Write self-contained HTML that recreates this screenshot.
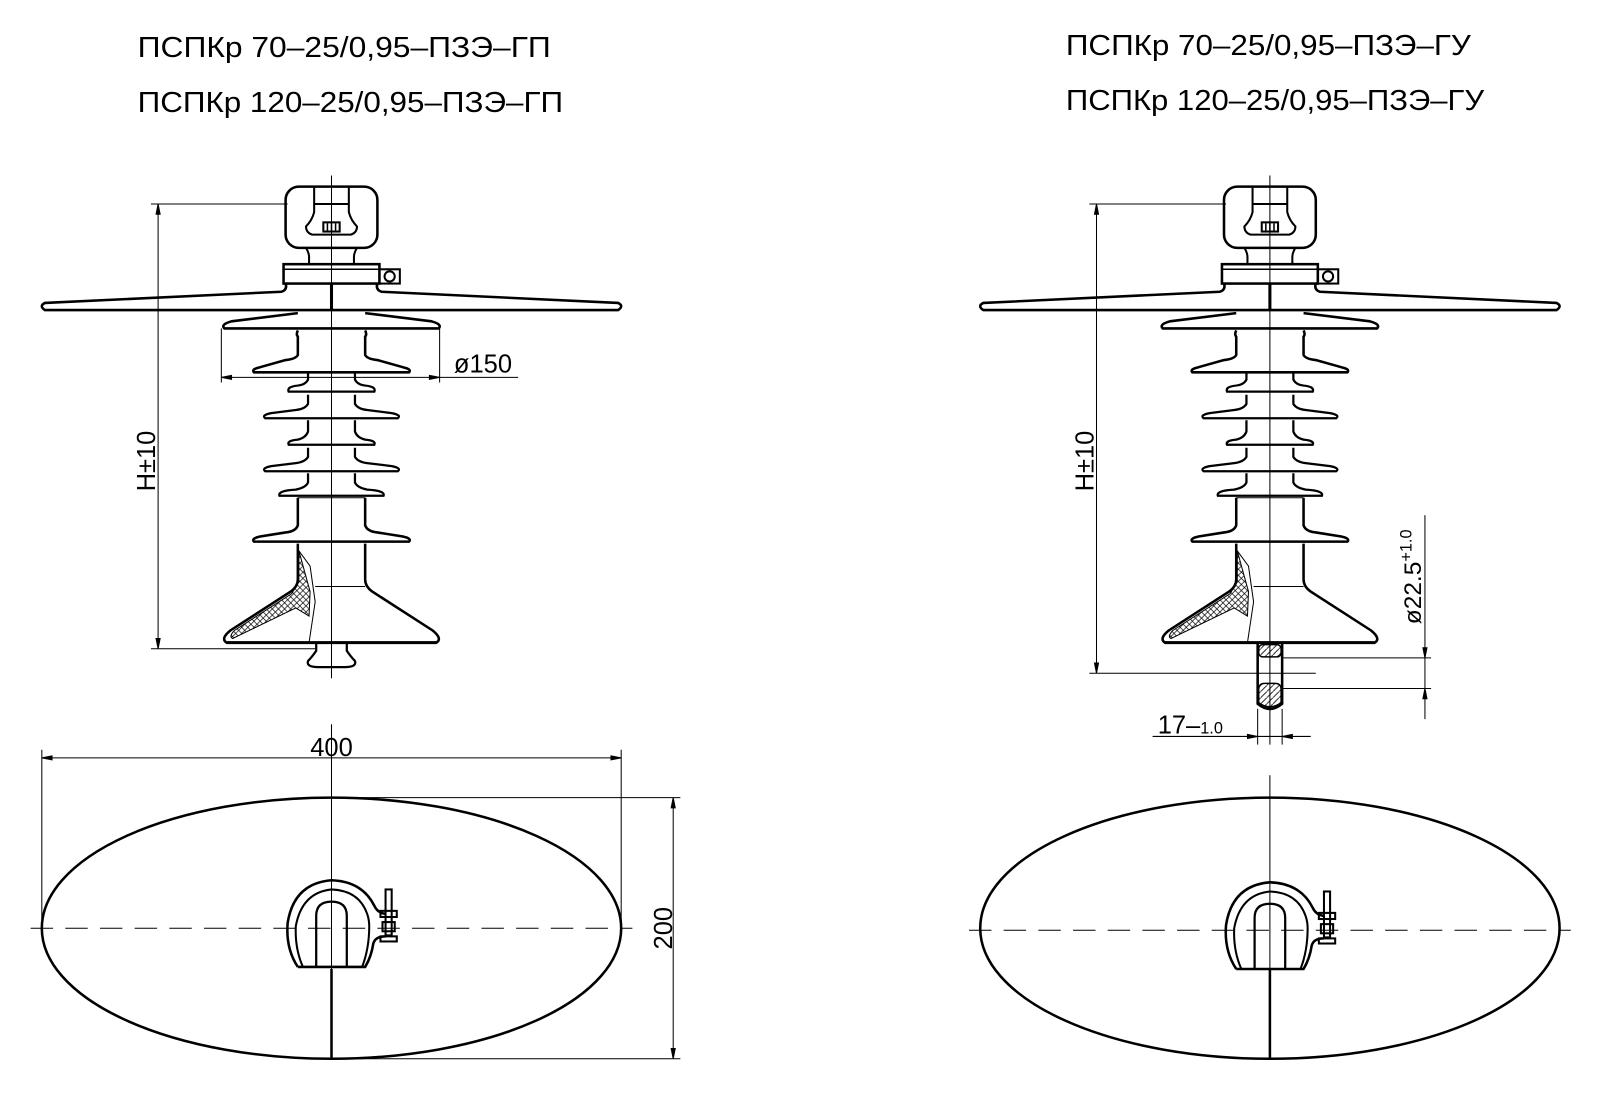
<!DOCTYPE html>
<html><head><meta charset="utf-8"><style>
html,body{margin:0;padding:0;background:#fff}
svg{display:block}
text{font-family:"Liberation Sans","DejaVu Sans",sans-serif;fill:#000}
</style></head><body>
<svg width="1600" height="1111" viewBox="0 0 1600 1111" xmlns="http://www.w3.org/2000/svg">
<defs>
<pattern id="hx" width="6" height="6" patternUnits="userSpaceOnUse"><path d="M0 0L6 6M6 0L0 6" stroke="#000" stroke-width="0.7"/></pattern>
<pattern id="hd" width="6" height="6" patternUnits="userSpaceOnUse"><path d="M0 6L6 0" stroke="#000" stroke-width="0.8"/></pattern>
<g id="ins" fill="none" stroke="#000">
 <rect x="280" y="183" width="90" height="60" rx="13" stroke-width="2.5"/>
 <path d="M308 184 V208 Q306 216 300 222 Q300 228 306 230 H344 Q350 228 350 222 Q344 216 342 208 V184" stroke-width="2"/>
 <line x1="308" y1="200" x2="342" y2="200" stroke-width="2"/>
 <rect x="317" y="218" width="16" height="9" fill="#fff" stroke-width="2"/>
 <path d="M321 219V227M325 219V227M329 219V227" stroke-width="1.5"/>
 <path d="M300 243 Q303 248 303 252 V260 M350 243 Q347 248 347 252 V260" stroke-width="2"/>
 <rect x="278" y="259" width="94" height="19" stroke-width="2.5"/>
 <line x1="278" y1="264" x2="372" y2="264" stroke-width="1.5"/>
 <rect x="372" y="264" width="20" height="14" stroke-width="2"/>
 <circle cx="382" cy="271" r="5" stroke-width="2"/>
 <path d="M280 278 Q282 284 276 286 L44 297 Q38 300 44 304 L606 304 Q612 300 606 297 L374 286 Q368 284 370 278" stroke-width="2.5"/>
 <line x1="325" y1="278" x2="325" y2="304" stroke-width="3"/>
 <path d="M292 307 L227 315 Q216 318 220 322 L430 322 Q434 318 423 315 L358 307" stroke-width="2.5"/>
 <path d="M292 324 Q290 328 292 330 V348 Q290 352 280 353 L255 360 Q246 362 249 365 L401 365 Q404 362 395 360 L370 353 Q360 352 358 348 V330 Q360 328 358 324" stroke-width="2.5"/>
 <path d="M302 366 V372 Q300 377 292 378 Q281 379 283 384 L367 384 Q369 379 358 378 Q350 377 348 372 V366" stroke-width="2.2"/>
 <path d="M302 387 V396 Q299 401 290 402 L266 405 Q256 407 260 410 L390 410 Q394 407 384 405 L360 402 Q351 401 348 396 V387" stroke-width="2.2"/>
 <path d="M302 412 V423 Q300 429 292 431 Q281 432 283 436 L367 436 Q369 432 358 431 Q350 429 348 423 V412" stroke-width="2.2"/>
 <path d="M302 439 V448 Q299 453 290 454 L266 457 Q256 459 260 462 L390 462 Q394 459 384 457 L360 454 Q351 453 348 448 V439" stroke-width="2.2"/>
 <path d="M302 464 V473 Q300 478 290 480 Q272 481 274 486 L376 486 Q378 481 360 480 Q350 478 348 473 V464" stroke-width="2.2"/>
 <path d="M292 488 V515 Q290 521 280 522 L255 526 Q246 528 249 531 L401 531 Q404 528 395 526 L370 522 Q360 521 358 515 V488" stroke-width="2.5"/>
 <line x1="292" y1="488" x2="358" y2="488" stroke-width="1"/>
 <path d="M292 533 V568 Q292 575 285 580 L226 618 Q216 626 222 630 L428 630 Q434 626 424 618 L365 580 Q358 575 358 568 V533" stroke-width="2.5"/>
 <line x1="222" y1="630" x2="428" y2="630" stroke-width="3"/>
 <path d="M293 540 L304 555 L309 590 L303 630" stroke-width="1"/>
 <path d="M293 540 V570 L286 582 L230 618 Q224 624 228 626 L290 596 L303 604 L304 580 Z" fill="url(#hx)" stroke-width="1"/>
 <line x1="309" y1="575" x2="358" y2="575" stroke-width="1"/>
</g>
</defs>
<g transform="scale(1.02)">
<text x="135" y="56" font-size="28" textLength="405" lengthAdjust="spacingAndGlyphs">ПСПКр  70–25/0,95–ПЗЭ–ГП</text>
<text x="135" y="110" font-size="28" textLength="417" lengthAdjust="spacingAndGlyphs">ПСПКр  120–25/0,95–ПЗЭ–ГП</text>
<text x="1045" y="54" font-size="28" textLength="397" lengthAdjust="spacingAndGlyphs">ПСПКр  70–25/0,95–ПЗЭ–ГУ</text>
<text x="1045" y="108" font-size="28" textLength="410" lengthAdjust="spacingAndGlyphs">ПСПКр  120–25/0,95–ПЗЭ–ГУ</text>

<use href="#ins"/>
<line x1="325" y1="172" x2="325" y2="665" stroke="#000" stroke-width="1"/>
<path d="M310 630 V638 Q306 644 302 648 Q300 654 312 654 H338 Q350 654 348 648 Q344 644 340 638 V630" fill="none" stroke="#000" stroke-width="2.2"/>
<g stroke="#000" stroke-width="1" fill="none">
 <line x1="148" y1="200" x2="282" y2="200"/>
 <line x1="148" y1="636" x2="310" y2="636"/>
 <line x1="155" y1="200" x2="155" y2="636"/>
 <path d="M155 200l-2 10h4z M155 636l-2 -10h4z" fill="#000"/>
 <line x1="217" y1="322" x2="217" y2="375"/>
 <line x1="431" y1="322" x2="431" y2="375"/>
 <line x1="217" y1="370" x2="508" y2="370"/>
 <path d="M217 370l10 -2v4z M431 370l-10 -2v4z" fill="#000"/>
</g>
<text x="445" y="365" font-size="25">ø150</text>
<text transform="translate(152 452) rotate(-90)" font-size="25" text-anchor="middle">H±10</text>

<use href="#ins" x="920"/>
<line x1="1245" y1="172" x2="1245" y2="730" stroke="#000" stroke-width="1"/>
<path d="M1233 630 V690 Q1245 700 1257 690 V630" fill="none" stroke="#000" stroke-width="2.5"/>
<rect x="1234" y="632" width="22" height="12" rx="4" fill="url(#hd)" stroke="#000" stroke-width="1.5"/>
<path d="M1234 676 Q1234 670 1240 670 H1250 Q1256 670 1256 676 V689 Q1245 697 1234 689 Z" fill="url(#hd)" stroke="#000" stroke-width="1.5"/>
<g stroke="#000" stroke-width="1" fill="none">
 <line x1="1068" y1="200" x2="1202" y2="200"/>
 <line x1="1068" y1="660" x2="1290" y2="660"/>
 <line x1="1075" y1="200" x2="1075" y2="660"/>
 <path d="M1075 200l-2 10h4z M1075 660l-2 -10h4z" fill="#000"/>
 <line x1="1257" y1="645" x2="1403" y2="645"/>
 <line x1="1257" y1="675" x2="1403" y2="675"/>
 <line x1="1397" y1="505" x2="1397" y2="705"/>
 <path d="M1397 645l-2 -10h4z M1397 675l-2 10h4z" fill="#000"/>
 <line x1="1233" y1="695" x2="1233" y2="730"/>
 <line x1="1257" y1="695" x2="1257" y2="730"/>
 <line x1="1130" y1="722" x2="1285" y2="722"/>
 <path d="M1233 722l-10 -2v4z M1257 722l10 -2v4z" fill="#000"/>
</g>
<text transform="translate(1072 452) rotate(-90)" font-size="25" text-anchor="middle">H±10</text>
<text transform="translate(1393 612) rotate(-90)" font-size="24">ø22.5<tspan font-size="16" dy="-9">+1.0</tspan></text>
<text x="1135" y="719" font-size="25">17–<tspan font-size="16">1.0</tspan></text>

<g fill="none" stroke="#000">
 <ellipse cx="325" cy="910" rx="284" ry="128" stroke-width="2.5"/>
 <line x1="30" y1="910" x2="620" y2="910" stroke-width="1" stroke-dasharray="22 12"/>
 <line x1="325" y1="710" x2="325" y2="950" stroke-width="1"/>
 <line x1="325" y1="950" x2="325" y2="1038" stroke-width="2.5"/>
 <line x1="41" y1="735" x2="41" y2="905" stroke-width="1"/>
 <line x1="609" y1="735" x2="609" y2="905" stroke-width="1"/>
 <line x1="41" y1="743" x2="609" y2="743" stroke-width="1"/>
 <path d="M41 743l10 -2v4z M609 743l-10 -2v4z" fill="#000" stroke-width="1"/>
 <line x1="325" y1="782" x2="667" y2="782" stroke-width="1"/>
 <line x1="325" y1="1038" x2="667" y2="1038" stroke-width="1"/>
 <line x1="660" y1="782" x2="660" y2="1038" stroke-width="1"/>
 <path d="M660 782l-2 10h4z M660 1038l-2 -10h4z" fill="#000" stroke-width="1"/>
 <g id="clamp">
  <path d="M292 948 Q280 930 282 905 Q288 866 325 863 Q355 864 367 888 Q370 895 378 896" stroke-width="2.5"/>
  <path d="M297 948 Q289 930 290 908 Q296 875 325 872 Q352 873 360 896 Q362 902 362 908 Q362 930 355 948" stroke-width="2"/>
  <path d="M292 948 H358 Q364 938 366 925 Q368 918 378 918" stroke-width="2.5"/>
  <path d="M310 948 V898 Q310 884 325 884 Q340 884 340 898 V948" stroke-width="2.2"/>
  <rect x="378" y="872" width="6" height="45" stroke-width="2"/>
  <rect x="373" y="893" width="16" height="6" stroke-width="2"/>
  <rect x="373" y="918" width="16" height="5" stroke-width="2"/>
  <rect x="375" y="904" width="12" height="9" stroke-width="2"/>
 </g>
</g>
<text x="325" y="741" font-size="25" text-anchor="middle">400</text>
<text transform="translate(659 910) rotate(-90)" font-size="25" text-anchor="middle">200</text>

<g fill="none" stroke="#000">
 <ellipse cx="1245" cy="910" rx="284" ry="128" stroke-width="2.5"/>
 <line x1="950" y1="912" x2="1540" y2="912" stroke-width="1" stroke-dasharray="22 12"/>
 <line x1="1245" y1="760" x2="1245" y2="950" stroke-width="1"/>
 <line x1="1245" y1="950" x2="1245" y2="1038" stroke-width="2.5"/>
 <use href="#clamp" x="920" y="2"/>
</g>
</g>
</svg>
</body></html>
